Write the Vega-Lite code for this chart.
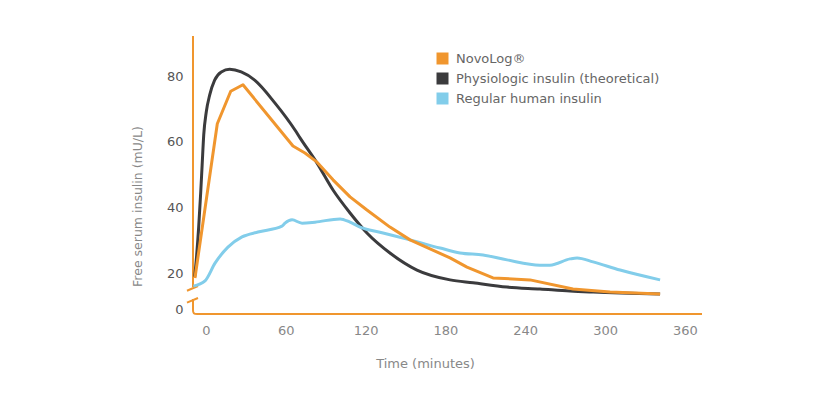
{
  "$schema": "https://vega.github.io/schema/vega-lite/v6.json",
  "width": 509,
  "height": 278,
  "autosize": {"type": "none"},
  "padding": {"left": 193, "top": 36, "right": 128, "bottom": 106},
  "background": "white",
  "config": {"view": {"stroke": null}, "font": "DejaVu Sans"},
  "datasets": {
    "curves": [
      {"series": "Physiologic insulin (theoretical)", "t": -8.5, "v": 18.8},
      {"series": "Physiologic insulin (theoretical)", "t": -7.3, "v": 24.0},
      {"series": "Physiologic insulin (theoretical)", "t": -5.5, "v": 34.0},
      {"series": "Physiologic insulin (theoretical)", "t": -4.0, "v": 44.4},
      {"series": "Physiologic insulin (theoretical)", "t": -2.9, "v": 52.9},
      {"series": "Physiologic insulin (theoretical)", "t": -1.7, "v": 62.1},
      {"series": "Physiologic insulin (theoretical)", "t": 0.2, "v": 69.1},
      {"series": "Physiologic insulin (theoretical)", "t": 2.8, "v": 74.3},
      {"series": "Physiologic insulin (theoretical)", "t": 6.5, "v": 78.8},
      {"series": "Physiologic insulin (theoretical)", "t": 11.5, "v": 81.3},
      {"series": "Physiologic insulin (theoretical)", "t": 17.8, "v": 82.1},
      {"series": "Physiologic insulin (theoretical)", "t": 26.5, "v": 81.3},
      {"series": "Physiologic insulin (theoretical)", "t": 36.6, "v": 78.8},
      {"series": "Physiologic insulin (theoretical)", "t": 51.9, "v": 71.8},
      {"series": "Physiologic insulin (theoretical)", "t": 66.9, "v": 63.6},
      {"series": "Physiologic insulin (theoretical)", "t": 70.7, "v": 61.2},
      {"series": "Physiologic insulin (theoretical)", "t": 83.5, "v": 53.5},
      {"series": "Physiologic insulin (theoretical)", "t": 95.5, "v": 45.3},
      {"series": "Physiologic insulin (theoretical)", "t": 108.3, "v": 38.3},
      {"series": "Physiologic insulin (theoretical)", "t": 121.0, "v": 32.2},
      {"series": "Physiologic insulin (theoretical)", "t": 138.3, "v": 26.1},
      {"series": "Physiologic insulin (theoretical)", "t": 158.6, "v": 20.9},
      {"series": "Physiologic insulin (theoretical)", "t": 183.5, "v": 17.9},
      {"series": "Physiologic insulin (theoretical)", "t": 200.8, "v": 17.0},
      {"series": "Physiologic insulin (theoretical)", "t": 226.3, "v": 15.7},
      {"series": "Physiologic insulin (theoretical)", "t": 251.1, "v": 15.1},
      {"series": "Physiologic insulin (theoretical)", "t": 273.7, "v": 14.5},
      {"series": "Physiologic insulin (theoretical)", "t": 291.0, "v": 14.2},
      {"series": "Physiologic insulin (theoretical)", "t": 341.4, "v": 13.6},
      {"series": "Regular human insulin", "t": -9.5, "v": 16.0},
      {"series": "Regular human insulin", "t": -0.75, "v": 17.6},
      {"series": "Regular human insulin", "t": 6.8, "v": 23.0},
      {"series": "Regular human insulin", "t": 16.5, "v": 27.9},
      {"series": "Regular human insulin", "t": 27.1, "v": 31.0},
      {"series": "Regular human insulin", "t": 39.1, "v": 32.5},
      {"series": "Regular human insulin", "t": 57.1, "v": 34.3},
      {"series": "Regular human insulin", "t": 59.4, "v": 35.2},
      {"series": "Regular human insulin", "t": 64.7, "v": 36.2},
      {"series": "Regular human insulin", "t": 72.2, "v": 35.2},
      {"series": "Regular human insulin", "t": 82.0, "v": 35.5},
      {"series": "Regular human insulin", "t": 100.8, "v": 36.5},
      {"series": "Regular human insulin", "t": 108.3, "v": 35.5},
      {"series": "Regular human insulin", "t": 115.8, "v": 34.0},
      {"series": "Regular human insulin", "t": 133.1, "v": 32.2},
      {"series": "Regular human insulin", "t": 153.4, "v": 30.1},
      {"series": "Regular human insulin", "t": 176.0, "v": 27.6},
      {"series": "Regular human insulin", "t": 191.0, "v": 26.1},
      {"series": "Regular human insulin", "t": 208.3, "v": 25.5},
      {"series": "Regular human insulin", "t": 226.3, "v": 24.0},
      {"series": "Regular human insulin", "t": 251.1, "v": 22.4},
      {"series": "Regular human insulin", "t": 258.6, "v": 22.4},
      {"series": "Regular human insulin", "t": 273.7, "v": 24.3},
      {"series": "Regular human insulin", "t": 279.0, "v": 24.6},
      {"series": "Regular human insulin", "t": 291.0, "v": 23.4},
      {"series": "Regular human insulin", "t": 311.3, "v": 20.9},
      {"series": "Regular human insulin", "t": 341.4, "v": 17.9},
      {"series": "NovoLog®", "t": -8.3, "v": 18.5},
      {"series": "NovoLog®", "t": 8.5, "v": 65.5},
      {"series": "NovoLog®", "t": 18.6, "v": 75.4},
      {"series": "NovoLog®", "t": 27.8, "v": 77.4},
      {"series": "NovoLog®", "t": 65.4, "v": 58.7},
      {"series": "NovoLog®", "t": 74.4, "v": 56.6},
      {"series": "NovoLog®", "t": 83.5, "v": 53.8},
      {"series": "NovoLog®", "t": 95.5, "v": 48.4},
      {"series": "NovoLog®", "t": 108.3, "v": 43.2},
      {"series": "NovoLog®", "t": 121.0, "v": 39.2},
      {"series": "NovoLog®", "t": 138.3, "v": 34.0},
      {"series": "NovoLog®", "t": 153.4, "v": 30.1},
      {"series": "NovoLog®", "t": 183.5, "v": 24.6},
      {"series": "NovoLog®", "t": 196.2, "v": 21.8},
      {"series": "NovoLog®", "t": 215.8, "v": 18.5},
      {"series": "NovoLog®", "t": 243.6, "v": 17.9},
      {"series": "NovoLog®", "t": 275.9, "v": 15.1},
      {"series": "NovoLog®", "t": 303.8, "v": 14.2},
      {"series": "NovoLog®", "t": 341.4, "v": 13.6}
    ],
    "axisLines": [
      {"part": "y upper", "t": -9.77, "v": 15.73, "t2": -9.77, "v2": 92.26},
      {"part": "y lower", "t": -9.77, "v": 9.0, "t2": -9.77, "v2": 12.07},
      {"part": "x axis", "t": -6.0, "v": 7.5, "t2": 372.9, "v2": 7.5},
      {"part": "break 1", "t": -14.3, "v": 14.6, "t2": -6.0, "v2": 16.04},
      {"part": "break 2", "t": -14.3, "v": 10.95, "t2": -6.0, "v2": 12.38}
    ],
    "corner": [
      {"i": 0, "t": -9.77, "v": 9.0},
      {"i": 1, "t": -9.77, "v": 7.5},
      {"i": 2, "t": -6.0, "v": 7.5}
    ]
  },
  "encoding": {
    "x": {
      "field": "t",
      "type": "quantitative",
      "scale": {"domain": [-9.77, 372.9], "nice": false, "zero": false},
      "axis": {
        "values": [0, 60, 120, 180, 240, 300, 360],
        "title": "Time (minutes)",
        "grid": false,
        "domain": false,
        "ticks": false,
        "tickSize": 0,
        "labelFontSize": 13,
        "labelColor": "#888888",
        "labelPadding": 10,
        "titleFontSize": 13,
        "titleFontWeight": "normal",
        "titleColor": "#888888",
        "titlePadding": 20,
        "titleX": 232
      }
    },
    "y": {
      "field": "v",
      "type": "quantitative",
      "scale": {"domain": [7.5, 92.26], "nice": false, "zero": false},
      "axis": {
        "values": [9, 20, 40, 60, 80],
        "labelExpr": "datum.value < 15 ? '0' : datum.label",
        "domain": false,
        "ticks": false,
        "tickSize": 0,
        "grid": false,
        "labelFontSize": 13,
        "labelColor": "#555555",
        "labelPadding": 10,
        "title": "Free serum insulin (mU/L)",
        "titleFontSize": 12.5,
        "titleFontWeight": "normal",
        "titleColor": "#888888",
        "titlePadding": 22,
        "titleY": 170
      }
    }
  },
  "layer": [
    {
      "data": {"name": "axisLines"},
      "mark": {"type": "rule", "color": "#F0962E", "strokeWidth": 2, "clip": false},
      "encoding": {
        "x2": {"field": "t2"},
        "y2": {"field": "v2"}
      }
    },
    {
      "data": {"name": "corner"},
      "mark": {"type": "line", "interpolate": "basis", "color": "#F0962E", "strokeWidth": 2, "clip": false},
      "encoding": {
        "order": {"field": "i", "type": "quantitative"}
      }
    },
    {
      "data": {"name": "curves"},
      "transform": [{"filter": "datum.series !== 'NovoLog®'"}],
      "mark": {"type": "line", "interpolate": "monotone", "strokeWidth": 3, "clip": false},
      "encoding": {
        "color": {
          "field": "series",
          "type": "nominal",
          "scale": {
            "domain": ["NovoLog®", "Physiologic insulin (theoretical)", "Regular human insulin"],
            "range": ["#F0962E", "#3B3B3D", "#82CDEA"]
          },
          "legend": {
            "title": null,
            "orient": "none",
            "legendX": 243,
            "legendY": 16,
            "symbolType": "square",
            "symbolSize": 144,
            "symbolStrokeWidth": 0,
            "labelFontSize": 13,
            "labelColor": "#666666",
            "labelOffset": 7,
            "labelLimit": 300,
            "rowPadding": 6,
            "encode": {
              "symbols": {
                "update": {
                  "fill": {"scale": "color", "field": "value"},
                  "stroke": {"value": "transparent"},
                  "shape": {"value": "square"}
                }
              }
            }
          }
        }
      }
    },
    {
      "data": {"name": "curves"},
      "transform": [{"filter": "datum.series === 'NovoLog®'"}],
      "mark": {"type": "line", "strokeWidth": 3, "strokeJoin": "round", "clip": false},
      "encoding": {
        "color": {"field": "series", "type": "nominal"}
      }
    }
  ]
}
